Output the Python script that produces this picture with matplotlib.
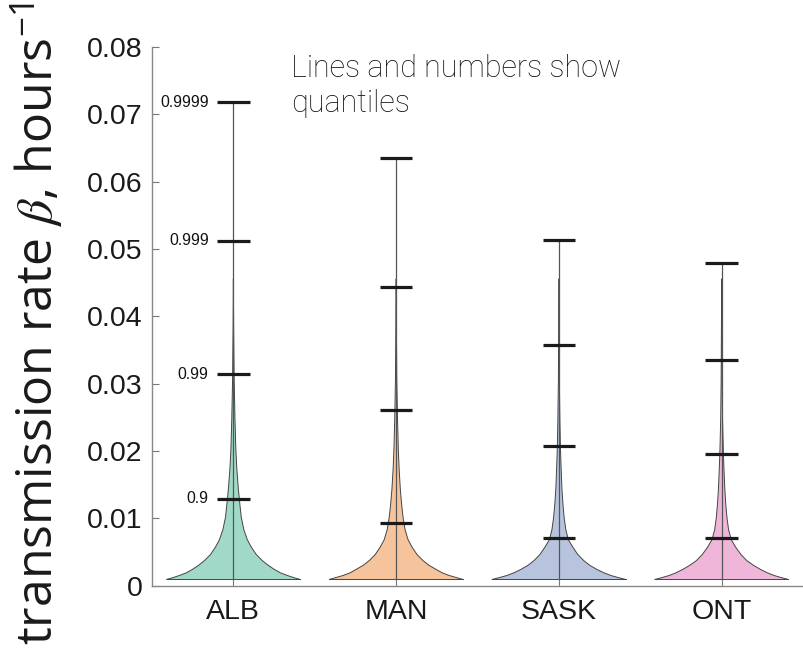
import matplotlib.pyplot as plt
import numpy as np

# regions and their quantiles of the transmission rate
regions = ['ALB', 'MAN', 'SASK', 'ONT']
quantile_levels = ['0.9', '0.99', '0.999', '0.9999']
quantiles = {
    'ALB':  [0.0129, 0.0314, 0.0512, 0.0718],
    'MAN':  [0.0093, 0.0260, 0.0443, 0.0635],
    'SASK': [0.0071, 0.0207, 0.0357, 0.0513],
    'ONT':  [0.0070, 0.0195, 0.0335, 0.0479],
}

# violin outlines: relative density at each rate value
rate_grid = [0.0009, 0.0012, 0.0015, 0.0019, 0.0024, 0.0030, 0.0037, 0.0046, 0.0057, 0.0068,
             0.0083, 0.0101, 0.0121, 0.0143, 0.0173, 0.0202, 0.0247, 0.0306, 0.0381, 0.0455]
density = {
    'ALB':  [1.0, 0.896, 0.806, 0.701, 0.612, 0.522, 0.433, 0.343, 0.269, 0.209,
             0.157, 0.119, 0.097, 0.075, 0.052, 0.037, 0.024, 0.012, 0.0045, 0.0],
    'MAN':  [1.0, 0.896, 0.791, 0.687, 0.597, 0.493, 0.403, 0.313, 0.239, 0.179,
             0.134, 0.104, 0.082, 0.063, 0.045, 0.033, 0.021, 0.010, 0.0045, 0.0],
    'SASK': [1.0, 0.881, 0.776, 0.672, 0.567, 0.463, 0.373, 0.284, 0.209, 0.142,
             0.104, 0.079, 0.061, 0.046, 0.034, 0.024, 0.015, 0.007, 0.003, 0.0],
    'ONT':  [1.0, 0.884, 0.783, 0.681, 0.580, 0.478, 0.377, 0.290, 0.210, 0.145,
             0.104, 0.080, 0.062, 0.048, 0.035, 0.025, 0.014, 0.007, 0.003, 0.0],
}

colors = ['#66c2a5', '#f0a060', '#8da0cb', '#e78ac3']

plt.rcParams['font.family'] = ['Liberation Sans', 'DejaVu Sans']
plt.rcParams['mathtext.fontset'] = 'custom'
plt.rcParams['mathtext.rm'] = 'Open Sans'
plt.rcParams['mathtext.it'] = 'STIXGeneral:italic'

fig = plt.figure(figsize=(8.04, 6.49), dpi=100)
ax = fig.add_axes([152 / 804, 63.5 / 649, 651 / 804, 538.5 / 649])

half_width = 0.41
y = np.array(rate_grid)
for i, name in enumerate(regions):
    pos = i + 1
    w = half_width * np.array(density[name])
    ax.fill_betweenx(y, pos - w, pos + w, facecolor=colors[i], alpha=0.62,
                     edgecolor='none', zorder=2)
    ax.plot(pos - w, y, color='#444444', lw=0.7, zorder=3)
    ax.plot(pos + w, y, color='#444444', lw=0.7, zorder=3)
    ax.plot([pos - w[0], pos + w[0]], [y[0], y[0]], color='#444444', lw=0.7, zorder=3)
    q = quantiles[name]
    ax.plot([pos, pos], [y[0], q[-1]], color='#555555', lw=0.9, zorder=4)
    for j, val in enumerate(q):
        ax.plot([pos - 0.1, pos + 0.1], [val, val], color='#1a1a1a', lw=2.3,
                solid_capstyle='butt', zorder=5)
        if name == 'ALB':
            ax.text(pos - 0.152, val, quantile_levels[j], ha='right', va='center',
                    fontsize=11.3, color='#111111')

ax.set_xlim(0.5, 4.5)
ax.set_ylim(0, 0.08)
ax.set_xticks(range(1, 5))
ax.set_xticklabels(regions)
ax.set_yticks(np.arange(0, 0.081, 0.01))
ax.yaxis.set_major_formatter(plt.FuncFormatter(lambda v, p: '%g' % round(v, 2)))
ax.tick_params(direction='in', length=5, width=0.8, color='#777777',
               labelsize=20.5, labelcolor='#1a1a1a', pad=7)
ax.tick_params(axis='x', pad=10)
for side in ['top', 'right']:
    ax.spines[side].set_visible(False)
for side in ['left', 'bottom']:
    ax.spines[side].set_color('#888888')
    ax.spines[side].set_linewidth(1.0)

fig.text(37 / 804, 1 - 324 / 649, r'transmission rate $\beta$, hours$^{-1}$',
         rotation=90, ha='center', va='center', fontsize=36,
         family='Open Sans', color='#1a1a1a')

fig.text(291 / 804, 1 - 54 / 649, 'Lines and numbers show\nquantiles',
         ha='left', va='top', fontsize=22, family='Roboto', fontweight='light',
         color='#111111', linespacing=1.25)

fig.savefig('out.png', dpi=100)
